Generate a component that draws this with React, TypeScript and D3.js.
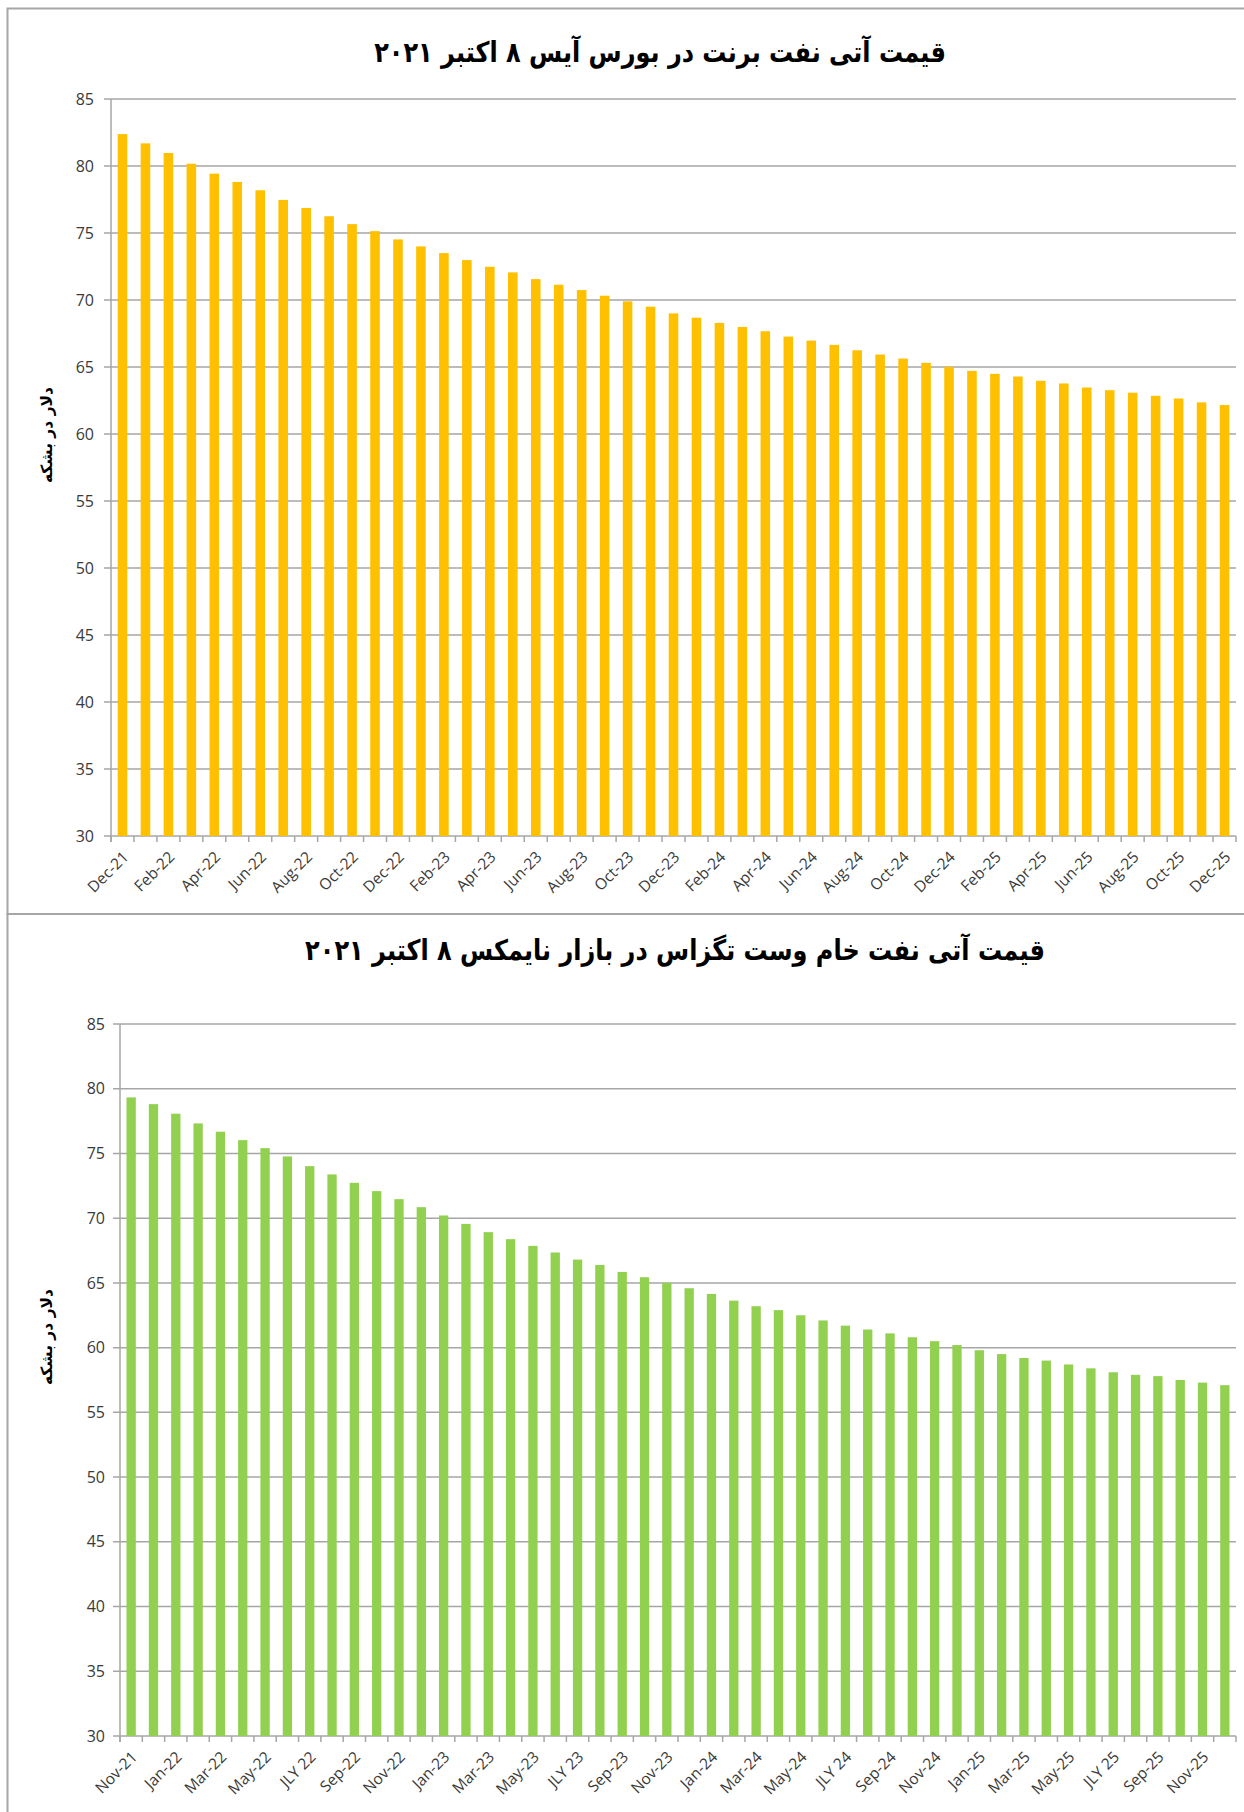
import React, { useEffect, useRef } from 'react';
import * as d3 from 'd3';

// قیمت آتی برنت - ICE
const brentMonths = [
  'Dec-21', 'Jan-22', 'Feb-22', 'Mar-22', 'Apr-22', 'May-22', 'Jun-22', 'Jul-22', 'Aug-22', 'Sep-22', 'Oct-22', 'Nov-22',
  'Dec-22', 'Jan-23', 'Feb-23', 'Mar-23', 'Apr-23', 'May-23', 'Jun-23', 'Jul-23', 'Aug-23', 'Sep-23', 'Oct-23', 'Nov-23',
  'Dec-23', 'Jan-24', 'Feb-24', 'Mar-24', 'Apr-24', 'May-24', 'Jun-24', 'Jul-24', 'Aug-24', 'Sep-24', 'Oct-24', 'Nov-24',
  'Dec-24', 'Jan-25', 'Feb-25', 'Mar-25', 'Apr-25', 'May-25', 'Jun-25', 'Jul-25', 'Aug-25', 'Sep-25', 'Oct-25', 'Nov-25',
  'Dec-25'
];
const brentPrices = [
  82.38, 81.69, 80.97, 80.17, 79.43, 78.81, 78.19, 77.47, 76.87, 76.25, 75.66, 75.14,
  74.52, 74.0, 73.5, 72.98, 72.48, 72.06, 71.56, 71.14, 70.74, 70.32, 69.9, 69.5,
  69.0, 68.68, 68.29, 67.99, 67.67, 67.27, 66.97, 66.65, 66.25, 65.93, 65.63, 65.31,
  65.01, 64.71, 64.49, 64.29, 63.97, 63.77, 63.47, 63.27, 63.08, 62.85, 62.65, 62.36,
  62.16
];

// قیمت آتی وست تگزاس - نایمکس
const wtiMonths = [
  'Nov-21', 'Dec-21', 'Jan-22', 'Feb-22', 'Mar-22', 'Apr-22', 'May-22', 'Jun-22', 'JLY 22', 'Aug-22', 'Sep-22', 'Oct-22',
  'Nov-22', 'Dec-22', 'Jan-23', 'Feb-23', 'Mar-23', 'Apr-23', 'May-23', 'Jun-23', 'JLY 23', 'Aug-23', 'Sep-23', 'Oct-23',
  'Nov-23', 'Dec-23', 'Jan-24', 'Feb-24', 'Mar-24', 'Apr-24', 'May-24', 'Jun-24', 'JLY 24', 'Aug-24', 'Sep-24', 'Oct-24',
  'Nov-24', 'Dec-24', 'Jan-25', 'Feb-25', 'Mar-25', 'Apr-25', 'May-25', 'Jun-25', 'JLY 25', 'Aug-25', 'Sep-25', 'Oct-25',
  'Nov-25', 'Dec-25'
];
const wtiPrices = [
  79.33, 78.81, 78.07, 77.32, 76.68, 76.03, 75.41, 74.77, 74.02, 73.38, 72.73, 72.09,
  71.47, 70.85, 70.21, 69.56, 68.92, 68.38, 67.86, 67.35, 66.8, 66.39, 65.85, 65.44,
  65.0, 64.59, 64.15, 63.63, 63.2, 62.9, 62.5, 62.1, 61.7, 61.4, 61.1, 60.8,
  60.5, 60.2, 59.8, 59.5, 59.2, 59.0, 58.7, 58.4, 58.1, 57.9, 57.8, 57.5,
  57.3, 57.1
];

const yTicks = [30, 35, 40, 45, 50, 55, 60, 65, 70, 75, 80, 85];
const brentTitle = 'قیمت آتی نفت برنت در بورس آیس ۸ اکتبر ۲۰۲۱';
const wtiTitle = 'قیمت آتی نفت خام وست تگزاس در بازار نایمکس ۸ اکتبر ۲۰۲۱';
const yLabel = 'دلار در بشکه';

const W = 1244;
const H = 1812;
const gridColor = '#a6a6a6';
const textColor = '#3a3a3a';
const latin = '"Open Sans", "DejaVu Sans", sans-serif';
const arabic = '"DejaVu Sans", sans-serif';

function drawPanel(svg, o) {
  const g = svg.append('g');

  // قاب
  g.append('rect')
    .attr('x', 7.5).attr('y', o.frameTop)
    .attr('width', W).attr('height', o.frameBottom - o.frameTop)
    .attr('fill', 'white').attr('stroke', gridColor).attr('stroke-width', 2);

  const x = d3.scaleBand().domain(o.months).range([o.left, o.right]).paddingInner(0).paddingOuter(0);
  const y = d3.scaleLinear().domain([30, 85]).range([o.bottom, o.top]);
  const barW = x.bandwidth() / 2.4;

  // خطوط شبکه
  g.append('g').selectAll('line').data(yTicks).enter().append('line')
    .attr('x1', o.left - 7).attr('x2', o.right)
    .attr('y1', d => y(d)).attr('y2', d => y(d))
    .attr('stroke', gridColor).attr('stroke-width', 1.5);

  g.append('g').selectAll('text').data(yTicks).enter().append('text')
    .attr('x', o.left - o.tickGap).attr('y', d => y(d))
    .attr('dy', '0.35em').attr('text-anchor', 'end')
    .attr('font-family', latin).attr('font-size', 16).attr('fill', textColor)
    .text(d => d);

  // میله ها
  g.append('g').selectAll('rect').data(o.values).enter().append('rect')
    .attr('x', (d, i) => x(o.months[i]) + (x.bandwidth() - barW) / 2)
    .attr('y', d => y(d))
    .attr('width', barW)
    .attr('height', d => y(30) - y(d))
    .attr('fill', o.color);

  // محورها
  g.append('line')
    .attr('x1', o.left).attr('x2', o.left).attr('y1', o.top).attr('y2', o.bottom + 6)
    .attr('stroke', gridColor).attr('stroke-width', 1.5);
  const edges = o.months.map(m => x(m)).concat([o.right]);
  g.append('g').selectAll('line').data(edges).enter().append('line')
    .attr('x1', d => d).attr('x2', d => d)
    .attr('y1', o.bottom).attr('y2', o.bottom + 6)
    .attr('stroke', gridColor).attr('stroke-width', 1.5);

  g.append('g').selectAll('text')
    .data(o.months.filter((m, i) => i % 2 === 0)).enter().append('text')
    .attr('transform', d => `translate(${x(d) + x.bandwidth() / 2 + 7},${o.bottom + 22}) rotate(-45)`)
    .attr('text-anchor', 'end')
    .attr('font-family', latin).attr('font-size', 15.5).attr('fill', textColor)
    .text(d => d);

  // عنوان
  g.append('text')
    .attr('transform', `translate(${o.titleX},${o.titleY}) scale(1,1.18)`)
    .attr('text-anchor', 'middle').attr('direction', 'rtl')
    .attr('font-family', arabic).attr('font-weight', 'bold').attr('font-size', 24)
    .attr('fill', 'black')
    .text(o.title);

  g.append('text')
    .attr('transform', `translate(${o.yLabelX},${o.yLabelY}) rotate(-90)`)
    .attr('text-anchor', 'middle').attr('direction', 'rtl')
    .attr('font-family', arabic).attr('font-weight', 'bold').attr('font-size', 15.5)
    .attr('fill', 'black')
    .text(yLabel);
}

export default function App() {
  const ref = useRef(null);

  useEffect(() => {
    const svg = d3.select(ref.current);
    svg.selectAll('*').remove();
    drawPanel(svg, {
      frameTop: 8.5, frameBottom: 914, top: 99, bottom: 836, left: 111, right: 1236, tickGap: 17,
      months: brentMonths, values: brentPrices, color: '#FFC000',
      title: brentTitle, titleX: 660, titleY: 62, yLabelX: 52, yLabelY: 435
    });
    drawPanel(svg, {
      frameTop: 914, frameBottom: 1830, top: 1024, bottom: 1736, left: 120, right: 1236, tickGap: 15,
      months: wtiMonths, values: wtiPrices, color: '#92D050',
      title: wtiTitle, titleX: 675, titleY: 960, yLabelX: 52, yLabelY: 1337
    });
  }, []);

  return (
    <svg ref={ref} width={W} height={H} style={{ position: 'absolute', left: 0, top: 0, background: 'white' }} />
  );
}
